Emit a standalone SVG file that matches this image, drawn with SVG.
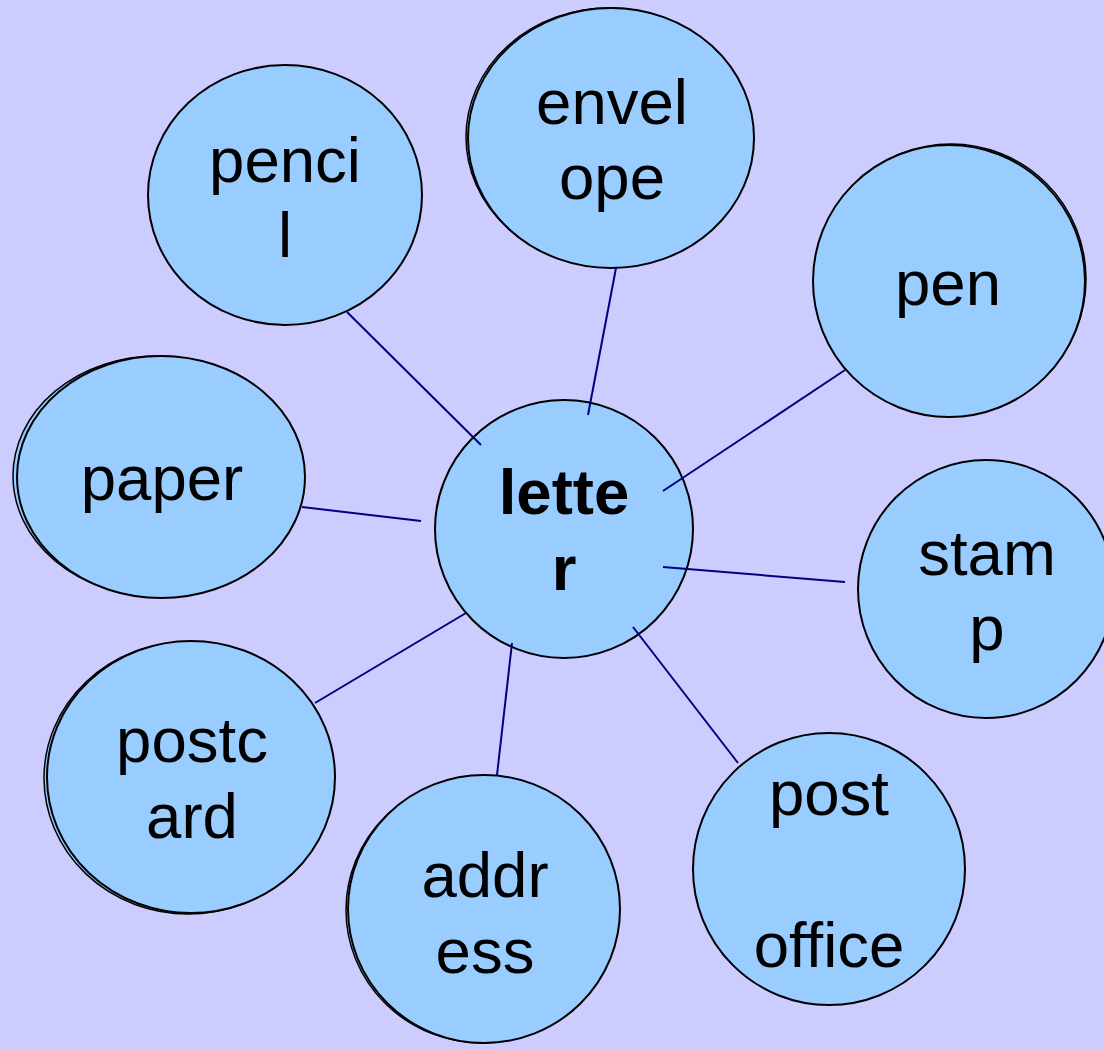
<svg xmlns="http://www.w3.org/2000/svg" width="1104" height="1050" viewBox="0 0 1104 1050">
<style>
.n{fill:#99CCFF;stroke:#000;stroke-width:2}
.s{fill:#99CCFF;stroke:#000;stroke-width:1.5}
.t{font-family:"Liberation Sans",Arial,sans-serif;font-size:63.5px;fill:#000;text-anchor:middle}
.b{font-weight:bold}
#connectors line{stroke:#000080;stroke-width:2}
</style>
<rect width="1104" height="1050" fill="#CCCCFF"/>
<g id="pencil">
<ellipse class="n" cx="285" cy="195" rx="137" ry="130"/>
<text class="t" x="285" y="182">penci</text>
<text class="t" x="285" y="257">l</text>
</g>
<g id="envelope">
<ellipse class="s" cx="609" cy="137" rx="143" ry="129"/>
<ellipse class="n" cx="611" cy="138" rx="143" ry="130"/>
<text class="t" x="612" y="124">envel</text>
<text class="t" x="612" y="199">ope</text>
</g>
<g id="pen">
<ellipse class="s" cx="951" cy="279" rx="135" ry="135"/>
<ellipse class="n" cx="949" cy="281" rx="136" ry="136"/>
<text class="t" x="948" y="305">pen</text>
</g>
<g id="paper">
<ellipse class="s" cx="157" cy="476" rx="144" ry="120"/>
<ellipse class="n" cx="161" cy="477" rx="144" ry="121"/>
<text class="t" x="162" y="500">paper</text>
</g>
<g id="letter">
<ellipse class="n" cx="564" cy="529" rx="129" ry="129"/>
<text class="t b" x="564" y="514">lette</text>
<text class="t b" x="564" y="590">r</text>
</g>
<g id="stamp">
<ellipse class="n" cx="986" cy="589" rx="128" ry="129"/>
<text class="t" x="987" y="575">stam</text>
<text class="t" x="987" y="650">p</text>
</g>
<g id="postcard">
<ellipse class="s" cx="188" cy="778" rx="144" ry="136"/>
<ellipse class="n" cx="191" cy="777" rx="144" ry="136"/>
<text class="t" x="192" y="762">postc</text>
<text class="t" x="192" y="838">ard</text>
</g>
<g id="address">
<ellipse class="s" cx="482" cy="910" rx="136" ry="133"/>
<ellipse class="n" cx="484" cy="909" rx="136" ry="134"/>
<text class="t" x="485" y="897">addr</text>
<text class="t" x="485" y="973">ess</text>
</g>
<g id="post-office">
<ellipse class="n" cx="829" cy="869" rx="136" ry="136"/>
<text class="t" x="829" y="815">post</text>
<text class="t" x="829" y="967">office</text>
</g>
<g id="connectors">
<line x1="347" y1="312" x2="481" y2="445"/>
<line x1="616" y1="268" x2="588" y2="415"/>
<line x1="845" y1="370" x2="663" y2="491"/>
<line x1="302" y1="507" x2="421" y2="521"/>
<line x1="663" y1="567" x2="845" y2="582"/>
<line x1="315" y1="703" x2="466" y2="613"/>
<line x1="497" y1="775" x2="512" y2="643"/>
<line x1="738" y1="763" x2="633" y2="627"/>
</g>
</svg>
